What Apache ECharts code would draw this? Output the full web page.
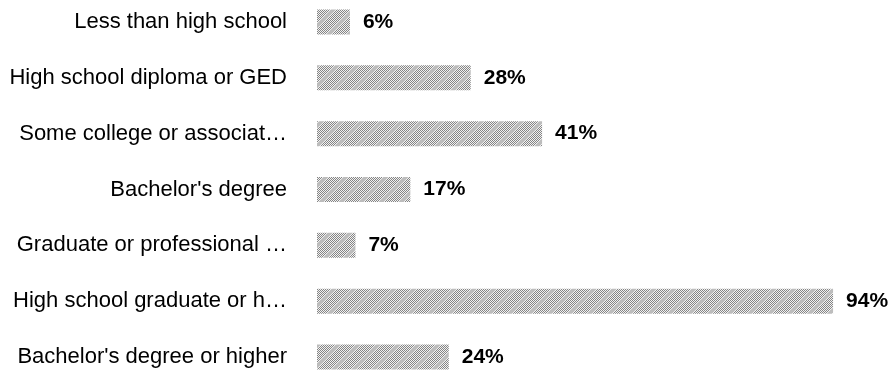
<!DOCTYPE html>
<html>
<head>
<meta charset="utf-8">
<script src="https://cdn.jsdelivr.net/npm/echarts@6/dist/echarts.min.js"></script>
<style>
html, body { margin: 0; padding: 0; background: #fff; }
#chart { width: 890px; height: 379px; }
</style>
</head>
<body>
<div id="chart"></div>
<script>
var categories = ['Less than high school', 'High school diploma or GED', 'Some college or associat\u2026',
	"Bachelor's degree", 'Graduate or professional \u2026', 'High school graduate or h\u2026',
	"Bachelor's degree or higher"];
var percents = [6, 28, 41, 17, 7, 94, 24];

// checkered fill with light diagonal stripes
var makeTile = function() {
	var size = 20;
	var c = document.createElement('canvas');
	c.width = size;
	c.height = size;
	var ctx = c.getContext('2d');
	for (var y = 0; y < size; y++) {
		for (var x = 0; x < size; x++) {
			var d = (x + y) % size;
			if (d < 5) {
				ctx.fillStyle = '#bdbdbd';
			} else {
				ctx.fillStyle = ((x + y) % 2 === 0) ? '#858585' : '#f2f2f2';
			}
			ctx.fillRect(x, y, 1, 1);
		}
	}
	return c;
};

var chart = echarts.init(document.getElementById('chart'));
chart.setOption({
	animation: false,
	grid: {
		left: 317,
		top: 22,
		width: 549,
		height: 335
	},
	xAxis: {
		type: 'value',
		min: 0,
		max: 100,
		show: false
	},
	yAxis: {
		type: 'category',
		inverse: true,
		boundaryGap: false,
		data: categories,
		axisLine: { show: false },
		axisTick: { show: false },
		splitLine: { show: false },
		axisLabel: {
			margin: 30,
			color: '#000',
			fontSize: 22,
			fontFamily: 'Liberation Sans, Arial, sans-serif'
		}
	},
	series: [{
		type: 'bar',
		data: percents,
		barWidth: 25,
		itemStyle: {
			color: { image: makeTile(), repeat: 'repeat' }
		},
		label: {
			show: true,
			position: 'right',
			distance: 13,
			formatter: '{c}%',
			color: '#000',
			fontSize: 21,
			fontWeight: 'bold',
			fontFamily: 'Liberation Sans, Arial, sans-serif'
		}
	}]
});
</script>
</body>
</html>
